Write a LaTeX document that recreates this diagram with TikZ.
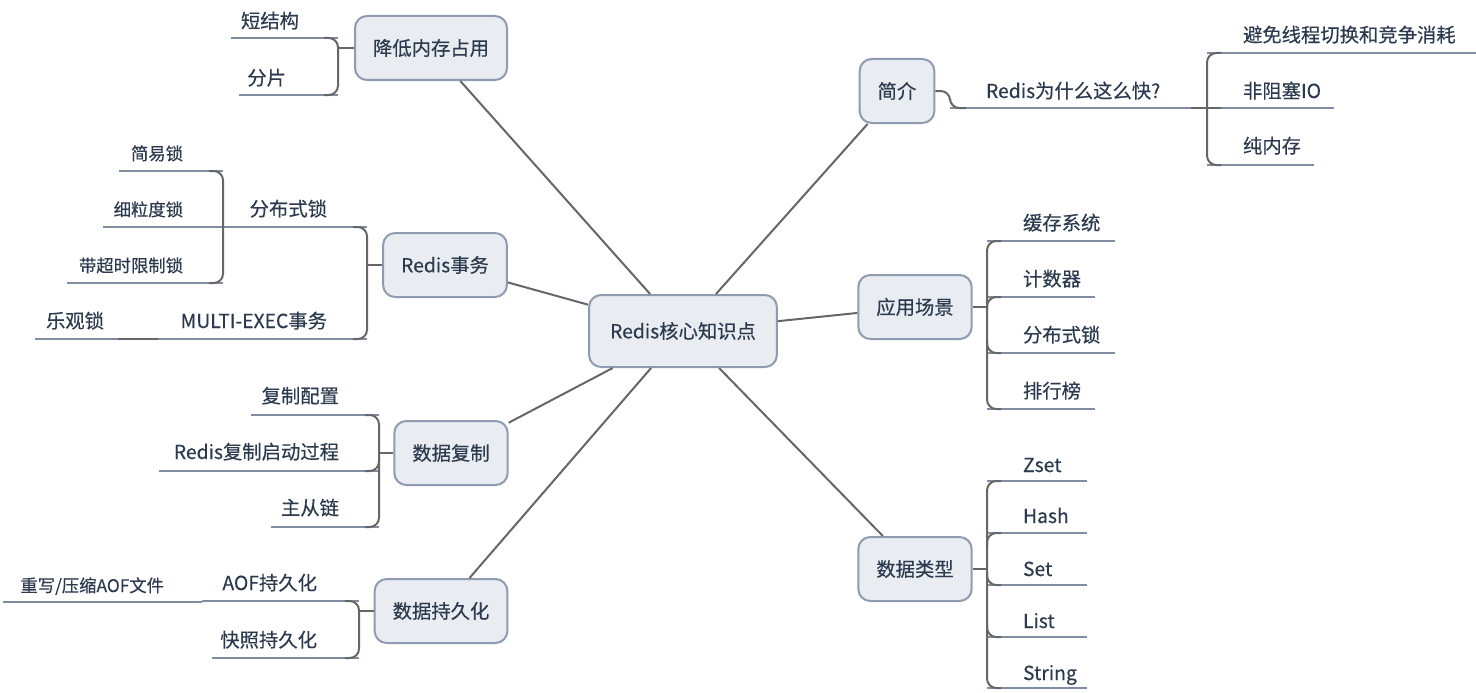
\documentclass[tikz,border=0pt]{standalone}
\usepackage{fontspec}
\setmainfont{Noto Sans CJK SC}[FakeBold=0.35]

\definecolor{topicfill}{HTML}{E9ECF1}
\definecolor{topicline}{HTML}{8E9BB0}
\definecolor{inkblue}{HTML}{2B3A4E}
\definecolor{branchgray}{HTML}{666666}
\definecolor{ulinegray}{HTML}{7F8DA3}

\tikzset{every picture/.style={line width=1.5pt}}
\tikzset{
	topic/.style={draw=topicline, fill=topicfill, rounded corners=9pt, line width=1.5pt, inner xsep=13.5pt, minimum height=48pt, text=inkblue, font=\fontsize{14.5}{16}\selectfont},
	rootnode/.style={topic, inner xsep=15.75pt, minimum height=54pt},
	leaf/.style={text=inkblue, inner sep=0pt, text height=0.83em, text depth=0.08em, font=\fontsize{14.5}{16}\selectfont},
	subleaf/.style={leaf, font=\fontsize{13}{15}\selectfont},
	link/.style={draw=branchgray, line width=1.5pt},
	branch/.style={draw=branchgray, line width=1.5pt, rounded corners=7pt},
	uline/.style={draw=ulinegray, line width=1.5pt}}

\begin{document}
\begin{tikzpicture}[x=0.75pt,y=0.75pt,yscale=-1,xscale=1]
	\useasboundingbox (0,0) rectangle (1476,692);

	%Shape: Rounded Rect [root and main topics]
	\node[rootnode] (root) at (683,331) {Redis核心知识点};
	\node[topic] (jd) at (431,48) {降低内存占用};
	\node[topic] (sw) at (445,265) {Redis事务};
	\node[topic] (fz) at (451,453) {数据复制};
	\node[topic] (cj) at (441,611) {数据持久化};
	\node[topic] (jj) at (897,91) {简介};
	\node[topic] (yy) at (915,307) {应用场景};
	\node[topic] (lx) at (915,569) {数据类型};

	%Straight Lines [root to topics]
	\draw[link] (root) -- (jd);
	\draw[link] (root) -- (sw);
	\draw[link] (root) -- (fz);
	\draw[link] (root) -- (cj);
	\draw[link] (root) -- (jj);
	\draw[link] (root) -- (yy);
	\draw[link] (root) -- (lx);

	%Bracket: 降低内存占用
	\draw[uline] (231,38) -- (338,38);
	\draw[uline] (239,95) -- (338,95);
	\draw[branch] (jd.west) -- (338,48);
	\draw[branch] (324,38) -- (338,38) -- (338,95) -- (324,95);
	% Text Node
	\node[leaf, anchor=east] (jd1) at (300,23) {短结构};
	\node[leaf, anchor=east] (jd2) at (287,80) {分片};

	%Bracket: Redis事务
	\draw[uline] (223,227) -- (367,227);
	\draw[uline] (150,339) -- (367,339);
	\draw[uline] (35,339) -- (130,339);
	\draw[branch] (sw.west) -- (367,265);
	\draw[branch] (353,227) -- (367,227) -- (367,339) -- (353,339);
	\draw[branch] (118,339) -- (158,339);
	% Text Node
	\node[leaf, anchor=east] (sw1) at (328,211) {分布式锁};
	\node[leaf, anchor=east] (sw2) at (328,323) {MULTI-EXEC事务};
	\node[leaf, anchor=east] (sw21) at (105,323) {乐观锁};
	%Bracket: 分布式锁
	\draw[uline] (119,171) -- (223,171);
	\draw[uline] (103,227) -- (223,227);
	\draw[uline] (67,283) -- (223,283);
	\draw[branch] (209,171) -- (223,171) -- (223,283) -- (209,283);
	% Text Node
	\node[subleaf, anchor=east] (sw11) at (184,155) {简易锁};
	\node[subleaf, anchor=east] (sw12) at (184,211) {细粒度锁};
	\node[subleaf, anchor=east] (sw13) at (184,267) {带超时限制锁};

	%Bracket: 数据复制
	\draw[uline] (251,415) -- (379,415);
	\draw[uline] (159,471) -- (379,471);
	\draw[uline] (271,527) -- (379,527);
	\draw[branch] (fz.west) -- (379,453);
	\draw[branch] (365,415) -- (379,415) -- (379,527) -- (365,527);
	\draw[branch] (379,458) |- (365,471);
	% Text Node
	\node[leaf, anchor=east] (fz1) at (340,398) {复制配置};
	\node[leaf, anchor=east] (fz2) at (340,454) {Redis复制启动过程};
	\node[leaf, anchor=east] (fz3) at (340,510) {主从链};

	%Bracket: 数据持久化
	\draw[uline] (202,601) -- (359,601);
	\draw[uline] (212,658) -- (359,658);
	\draw[uline] (3,602) -- (202,602);
	\draw[branch] (cj.west) -- (359,611);
	\draw[branch] (345,601) -- (359,601) -- (359,658) -- (345,658);
	% Text Node
	\node[leaf, anchor=east] (cj1) at (318,585) {AOF持久化};
	\node[leaf, anchor=east] (cj2) at (318,642) {快照持久化};
	\node[subleaf, anchor=east] (cj11) at (165,587) {重写/压缩AOF文件};

	%Bracket: 简介
	\draw[uline] (950,108) -- (1207,108);
	\draw[branch] (jj.east) -- (950,91) -- (950,108) -- (966,108);
	\node[leaf, anchor=west] (jj1) at (985,93) {Redis为什么这么快?};
	\draw[uline] (1207,53) -- (1476,53);
	\draw[uline] (1207,108) -- (1334,108);
	\draw[uline] (1207,165) -- (1314,165);
	\draw[branch] (1221,53) -- (1207,53) -- (1207,165) -- (1221,165);
	\draw[branch] (1191,108) -- (1221,108);
	% Text Node
	\node[leaf, anchor=west] (jj11) at (1242,37) {避免线程切换和竞争消耗};
	\node[leaf, anchor=west] (jj12) at (1242,93) {非阻塞IO};
	\node[leaf, anchor=west] (jj13) at (1242,148) {纯内存};

	%Bracket: 应用场景
	\draw[uline] (987,241) -- (1115,241);
	\draw[uline] (987,297) -- (1095,297);
	\draw[uline] (987,353) -- (1115,353);
	\draw[uline] (987,409) -- (1095,409);
	\draw[branch] (yy.east) -- (987,307);
	\draw[branch] (1001,241) -- (987,241) -- (987,409) -- (1001,409);
	\draw[branch] (987,310) |- (1001,297);
	\draw[branch] (987,340) |- (1001,353);
	% Text Node
	\node[leaf, anchor=west] (yy1) at (1022,225) {缓存系统};
	\node[leaf, anchor=west] (yy2) at (1022,281) {计数器};
	\node[leaf, anchor=west] (yy3) at (1022,337) {分布式锁};
	\node[leaf, anchor=west] (yy4) at (1022,393) {排行榜};

	%Bracket: 数据类型
	\draw[uline] (987,481) -- (1087,481);
	\draw[uline] (987,533) -- (1087,533);
	\draw[uline] (987,585) -- (1087,585);
	\draw[uline] (987,637) -- (1087,637);
	\draw[uline] (987,688) -- (1087,688);
	\draw[branch] (lx.east) -- (987,569);
	\draw[branch] (1001,481) -- (987,481) -- (987,688) -- (1001,688);
	\draw[branch] (987,548) |- (1001,533);
	\draw[branch] (987,572) |- (1001,585);
	\draw[branch] (987,622) |- (1001,637);
	% Text Node
	\node[leaf, anchor=west] (lx1) at (1022,467) {Zset};
	\node[leaf, anchor=west] (lx2) at (1022,518) {Hash};
	\node[leaf, anchor=west] (lx3) at (1022,571) {Set};
	\node[leaf, anchor=west] (lx4) at (1022,623) {List};
	\node[leaf, anchor=west] (lx5) at (1022,675) {String};

\end{tikzpicture}
\end{document}
